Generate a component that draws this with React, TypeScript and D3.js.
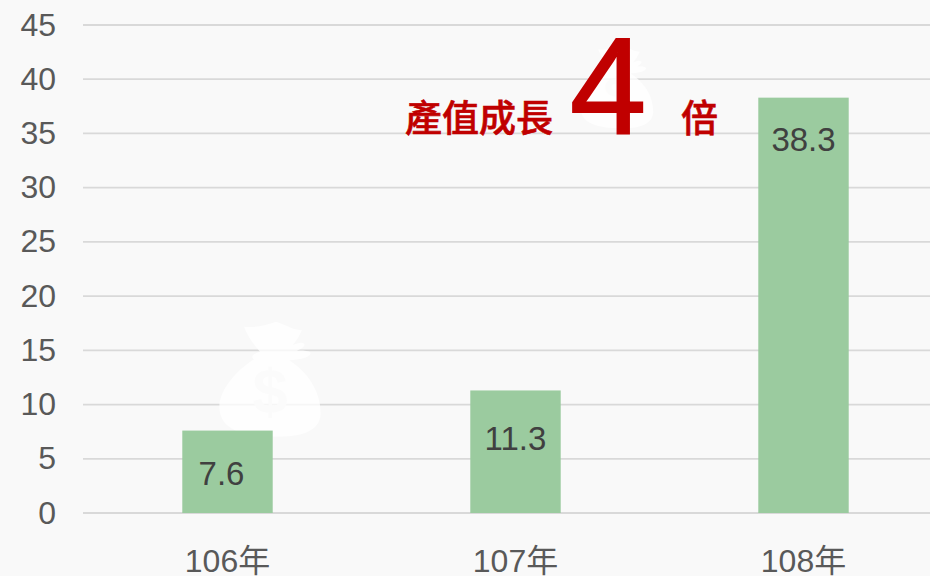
import React from 'react';
import * as d3 from 'd3';

const categories = ['106年', '107年', '108年'];
const values = [7.6, 11.3, 38.3];
const valueLabels = ['7.6', '11.3', '38.3'];
const yTicks = [0, 5, 10, 15, 20, 25, 30, 35, 40, 45];

const W = 930, H = 576;
const y = d3.scaleLinear().domain([0, 45]).range([513, 25]);
const x = d3.scaleBand<string>().domain(categories).range([83.5, 947.5]).paddingInner(0.686).paddingOuter(0.343);
const FONT = '"Liberation Sans", Arial, sans-serif';
const CJK = '"Liberation Sans", "Noto Sans CJK TC", sans-serif';

const BAG = 'M192 80 C225 84 255 76 288 65 C310 70 335 88 366 91 C358 108 350 122 338 136 C352 128 368 126 373 132 C376 140 362 148 350 152 C368 150 392 152 392 160 C390 172 360 180 328 181 C380 215 422 270 422 340 C422 385 380 410 300 410 C190 412 118 390 118 320 C118 270 170 210 222 178 C212 172 215 162 240 155 C222 135 202 108 192 80 Z';

function Bag({ tx, ty, s }: { tx: number; ty: number; s: number }) {
  return (
    <g transform={`translate(${tx},${ty}) scale(${s})`}>
      <path d={BAG} fill="#ffffff" fillOpacity={0.75} />
      <text x={270} y={338} textAnchor="middle" fontFamily={FONT} fontWeight="bold" fontSize={190} fill="#fbfbfb">$</text>
    </g>
  );
}

export default function App() {
  return (
    <svg width={W} height={H} style={{ position: 'fixed', left: 0, top: 0, background: '#f9f9f9' }}>
      {yTicks.map(t => (
        <line key={t} x1={83} x2={W} y1={y(t)} y2={y(t)} stroke="#d9d9d9" strokeWidth={1.8} />
      ))}
      {yTicks.map(t => (
        <text key={t} x={56} y={y(t) + 10.5} textAnchor="end" fontFamily={FONT} fontSize={32} fill="#595959">{t}</text>
      ))}
      <Bag tx={180} ty={300} s={1 / 3} />
      <Bag tx={552} ty={30} s={0.24} />
      {categories.map((c, i) => (
        <g key={c}>
          <rect x={x(c)} y={y(values[i])} width={x.bandwidth()} height={y(0) - y(values[i])} fill="#9bcb9f" />
          <text x={x(c)! + x.bandwidth() / 2 - 6 + (i === 0 ? 0 : 6)} y={y(values[i]) + (i === 0 ? 54 : i === 1 ? 60 : 53)} textAnchor="middle" fontFamily={FONT} fontSize={33} fill="#404040">{valueLabels[i]}</text>
          <text x={x(c)! + x.bandwidth() / 2} y={572} textAnchor="middle" fontFamily={CJK} fontSize={32} fill="#595959">{c}</text>
        </g>
      ))}
      <text x={405} y={132} fontFamily={CJK} fontWeight={500} fontSize={37} stroke="#c00000" strokeWidth={0.6} fill="#c00000">產值成長</text>
      <text x={570} y={133} fontFamily={FONT} fontSize={137} stroke="#c00000" strokeWidth={2} fill="#c00000">4</text>
      <text x={681} y={132} fontFamily={CJK} fontWeight={500} fontSize={37} stroke="#c00000" strokeWidth={0.6} fill="#c00000">倍</text>
    </svg>
  );
}
